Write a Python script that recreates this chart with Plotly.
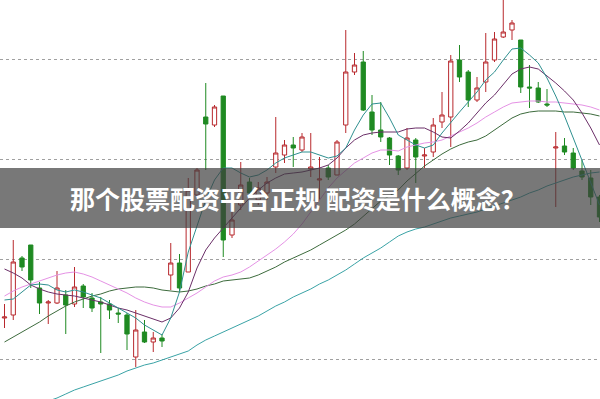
import plotly.graph_objects as go

# ---- data (prices) ----
idx = list(range(1, 70))

opens = [10.41, 10.44, 11.01, 11.14, 10.71, 10.56, 10.56, 10.64, 10.55, 10.73,
         10.61, 10.57, 10.55, 10.46, 10.44, 10.02, 10.27, 10.17, 10.21, 10.84,
         10.96, 10.87, 11.64, 12.42, 12.34, 12.63, 11.24, 11.54, 11.77, 11.59,
         11.66, 11.92, 12.04, 12.14, 12.09, 11.90, 11.79, 11.91, 11.84, 12.34,
         12.87, 12.97, 12.47, 12.29, 12.21, 12.03, 11.91, 12.19, 12.03, 12.07,
         12.37, 12.42, 12.99, 12.87, 12.59, 12.77, 12.99, 13.22, 13.29, 13.19,
         12.72, 12.71, 12.55, 12.11, 12.13, 12.06, 11.88, 11.81, 11.62]
highs = [10.55, 11.19, 11.03, 11.14, 10.77, 10.59, 10.88, 10.69, 10.92, 10.75,
         10.66, 10.62, 10.59, 10.51, 10.46, 10.49, 10.39, 10.27, 10.25, 11.16,
         11.05, 11.81, 11.91, 12.76, 12.54, 12.63, 11.69, 11.97, 11.81, 11.77,
         11.82, 12.42, 12.19, 12.22, 12.26, 12.26, 12.02, 11.94, 12.19, 13.29,
         13.06, 13.08, 12.64, 12.57, 12.22, 12.04, 12.31, 12.21, 12.11, 12.41,
         12.67, 13.04, 13.14, 12.89, 12.82, 13.26, 13.27, 13.62, 13.39, 13.19,
         12.94, 12.77, 12.70, 12.27, 12.21, 12.11, 11.99, 11.89, 11.64]
lows = [10.31, 10.39, 10.88, 10.71, 10.45, 10.35, 10.55, 10.25, 10.52, 10.51,
        10.47, 10.06, 10.40, 10.36, 10.09, 9.92, 10.16, 10.07, 10.12, 10.69,
        10.67, 10.87, 11.61, 11.89, 12.32, 11.02, 11.21, 11.49, 11.61, 11.54,
        11.59, 11.86, 11.96, 11.92, 12.07, 11.82, 11.59, 11.79, 11.84, 12.26,
        12.84, 12.48, 12.24, 12.17, 11.94, 11.84, 11.89, 11.76, 11.91, 12.02,
        12.31, 12.12, 12.77, 12.52, 12.57, 12.67, 12.97, 13.21, 13.19, 12.66,
        12.51, 12.56, 12.52, 11.52, 12.04, 11.89, 11.79, 11.54, 11.37]
closes = [10.42, 10.97, 10.92, 10.79, 10.56, 10.57, 10.71, 10.54, 10.72, 10.62,
          10.51, 10.55, 10.49, 10.45, 10.25, 10.29, 10.17, 10.21, 10.18, 10.96,
          10.71, 11.69, 11.89, 12.35, 12.52, 11.19, 11.39, 11.74, 11.66, 11.71,
          11.77, 12.06, 12.14, 12.11, 12.22, 11.92, 11.80, 11.82, 12.17, 12.87,
          12.94, 12.49, 12.29, 12.22, 12.04, 11.89, 12.21, 12.02, 12.04, 12.34,
          12.44, 12.98, 12.82, 12.59, 12.71, 12.97, 13.20, 13.27, 13.36, 12.72,
          12.71, 12.57, 12.54, 12.12, 12.07, 11.91, 11.82, 11.62, 11.42]

ma5 = [10.59, 10.60, 10.67, 10.74, 10.75, 10.74, 10.69, 10.67, 10.69, 10.67,
       10.64, 10.61, 10.56, 10.51, 10.46, 10.41, 10.34, 10.29, 10.24, 10.41,
       10.67, 11.07, 11.34, 11.59, 11.79, 11.91, 11.91, 11.86, 11.82, 11.84,
       11.89, 11.96, 12.01, 12.04, 12.07, 12.07, 12.04, 12.01, 12.03, 12.11,
       12.29, 12.44, 12.55, 12.56, 12.41, 12.24, 12.19, 12.14, 12.11, 12.14,
       12.26, 12.37, 12.47, 12.57, 12.67, 12.79, 12.87, 12.99, 13.10, 13.11,
       13.04, 12.96, 12.81, 12.63, 12.43, 12.21, 11.99, 11.77, 11.54]
ma10 = [10.90, 10.86, 10.81, 10.74, 10.70, 10.67, 10.65, 10.64, 10.63, 10.61,
        10.59, 10.57, 10.54, 10.51, 10.49, 10.46, 10.43, 10.40, 10.37, 10.41,
        10.51, 10.67, 10.91, 11.09, 11.21, 11.31, 11.41, 11.51, 11.61, 11.69,
        11.76, 11.81, 11.85, 11.86, 11.87, 11.89, 11.91, 11.94, 12.01, 12.11,
        12.19, 12.24, 12.26, 12.27, 12.27, 12.27, 12.30, 12.31, 12.31, 12.27,
        12.22, 12.21, 12.28, 12.36, 12.46, 12.56, 12.64, 12.75, 12.85, 12.90,
        12.92, 12.90, 12.83, 12.76, 12.68, 12.59, 12.46, 12.31, 12.14]
ma20 = [10.63, 10.68, 10.72, 10.75, 10.78, 10.81, 10.84, 10.86, 10.87, 10.85,
        10.82, 10.78, 10.74, 10.70, 10.66, 10.61, 10.57, 10.54, 10.52, 10.52,
        10.56, 10.61, 10.66, 10.72, 10.78, 10.82, 10.84, 10.87, 10.92, 10.98,
        11.04, 11.10, 11.17, 11.25, 11.35, 11.47, 11.59, 11.71, 11.81, 11.89,
        11.96, 12.01, 12.06, 12.09, 12.09, 12.08, 12.12, 12.14, 12.16, 12.17,
        12.19, 12.23, 12.27, 12.31, 12.36, 12.42, 12.47, 12.52, 12.56, 12.57,
        12.58, 12.58, 12.57, 12.57, 12.56, 12.55, 12.54, 12.52, 12.49]
ma60 = [10.17, 10.22, 10.27, 10.32, 10.37, 10.43, 10.48, 10.53, 10.57, 10.60,
        10.63, 10.65, 10.68, 10.70, 10.71, 10.72, 10.72, 10.71, 10.69, 10.68,
        10.67, 10.68, 10.70, 10.73, 10.75, 10.78, 10.79, 10.80, 10.81, 10.84,
        10.88, 10.92, 10.97, 11.01, 11.05, 11.09, 11.14, 11.19, 11.24, 11.29,
        11.35, 11.43, 11.50, 11.58, 11.63, 11.69, 11.78, 11.86, 11.93, 11.99,
        12.05, 12.10, 12.14, 12.17, 12.19, 12.23, 12.29, 12.35, 12.41, 12.45,
        12.47, 12.48, 12.48, 12.48, 12.47, 12.47, 12.46, 12.45, 12.43]
ma120 = [None, None, None, None, 9.55, 9.58, 9.61, 9.65, 9.69, 9.72,
         9.75, 9.78, 9.81, 9.84, 9.88, 9.91, 9.94, 9.96, 9.99, 10.02,
         10.05, 10.08, 10.14, 10.19, 10.23, 10.27, 10.31, 10.35, 10.39, 10.43,
         10.48, 10.53, 10.57, 10.62, 10.66, 10.70, 10.75, 10.79, 10.84, 10.89,
         10.95, 11.01, 11.06, 11.11, 11.17, 11.23, 11.27, 11.30, 11.32, 11.35,
         11.38, 11.41, 11.43, 11.45, 11.47, 11.50, 11.53, 11.56, 11.59, 11.62,
         11.66, 11.69, 11.73, 11.76, 11.79, 11.82, 11.84, 11.86, 11.87]

grid_vals = [10, 11, 12, 13]
title_text = "那个股票配资平台正规 配资是什么概念？"

RED = "#b8282d"
GREEN = "#1f8a22"

fig = go.Figure()
fig.add_trace(go.Candlestick(
    x=idx, open=opens, high=highs, low=lows, close=closes,
    increasing=dict(line=dict(color=RED, width=1), fillcolor="white"),
    decreasing=dict(line=dict(color=GREEN, width=1), fillcolor=GREEN),
    hoverinfo="skip", showlegend=False))

for vals, col in [(ma120, "#3aa3a6"), (ma60, "#3d6b3d"), (ma20, "#e592e5"),
                  (ma10, "#6b2f68"), (ma5, "#2f9090")]:
    fig.add_trace(go.Scatter(x=idx, y=vals, mode="lines",
                             line=dict(color=col, width=1),
                             hoverinfo="skip", showlegend=False))

fig.add_shape(type="rect", xref="paper", yref="paper",
              x0=0, x1=1, y0=1 - 228 / 399, y1=1 - 168 / 399,
              fillcolor="rgba(62,62,62,0.70)", line=dict(width=0), layer="above")
fig.add_annotation(xref="paper", yref="paper", x=0.497, y=1 - 198 / 399,
                   text="<b>" + title_text + "</b>", showarrow=False,
                   font=dict(family="Noto Sans CJK SC", size=25, color="white"),
                   xanchor="center", yanchor="middle")

fig.update_layout(
    width=600, height=399,
    margin=dict(l=0, r=0, t=0, b=0),
    paper_bgcolor="white", plot_bgcolor="white",
    xaxis=dict(range=[0.4857, 69.057], showgrid=False, zeroline=False,
               showticklabels=False, rangeslider=dict(visible=False),
               fixedrange=True),
    yaxis=dict(range=[9.60, 13.59], tickvals=grid_vals, showgrid=True,
               gridcolor="#a0a0a0", griddash="dot", gridwidth=1,
               zeroline=False, showticklabels=False, fixedrange=True),
)

fig.write_html("out.html")
